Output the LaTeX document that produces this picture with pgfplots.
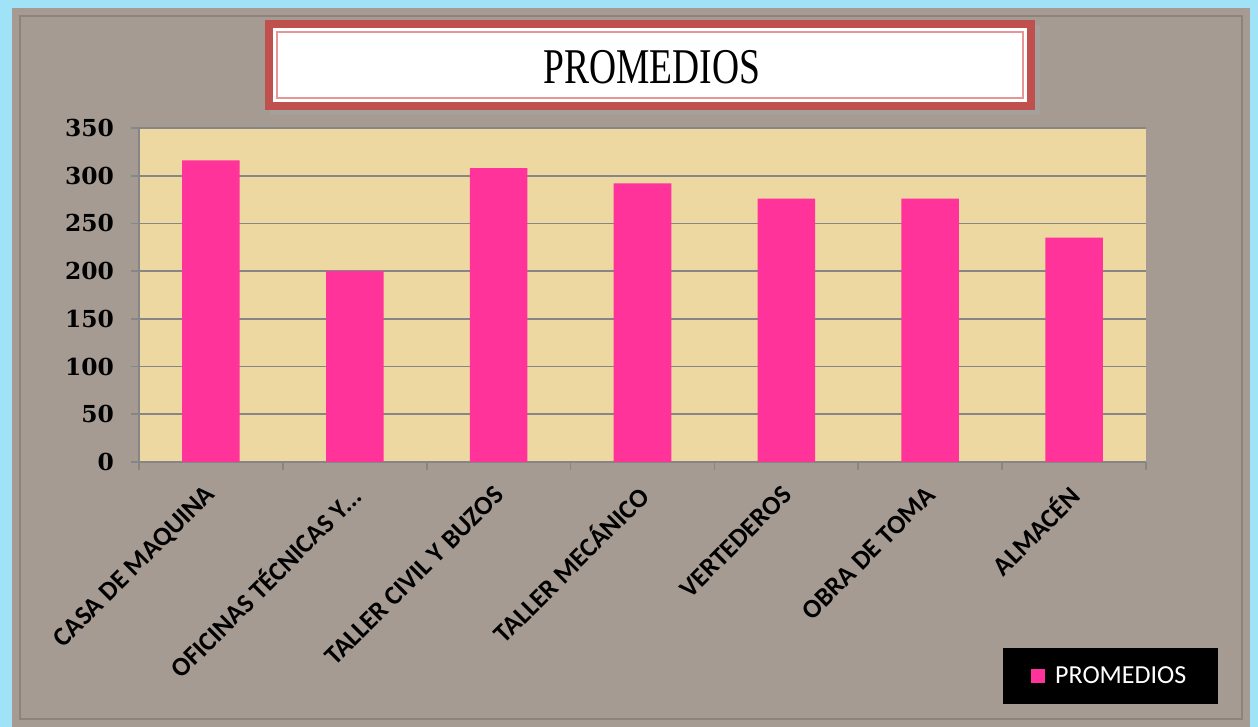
\documentclass[border=0pt]{standalone}
\usepackage{fontspec}
\usepackage{pgfplots}
\pgfplotsset{compat=1.18}
\setmainfont{Carlito}
\newfontfamily\tickfont{DejaVu Serif}
\newfontfamily\titlefont[FakeStretch=0.75]{Liberation Serif}
\definecolor{cyanb}{RGB}{160,226,246}
\definecolor{granite}{RGB}{165,155,147}
\definecolor{granited}{RGB}{140,131,124}
\definecolor{parch}{RGB}{237,216,162}
\definecolor{pinkbar}{RGB}{255,51,153}
\definecolor{gridc}{RGB}{134,134,134}
\definecolor{titlered}{RGB}{192,80,77}
\definecolor{titlepink}{RGB}{230,150,148}
\begin{document}
\begin{tikzpicture}[x=1pt,y=1pt]
\fill[cyanb] (0,0) rectangle (629,363.5);
\fill[granite] (6,0) rectangle (625,359.5);
\draw[granited, line width=0.8pt] (10,4) rectangle (621,355.5);
% title box
\fill[black!35, opacity=0.5] (135,306) rectangle (520,351);
\fill[titlered] (132.5,308.5) rectangle (517.5,353.5);
\fill[white] (136.5,312.5) rectangle (513.5,349.5);
\draw[titlepink, line width=1pt] (138.5,314.5) rectangle (511.5,347.5);
\node[font=\titlefont\fontsize{25}{25}\selectfont] at (326,330) {PROMEDIOS};
\begin{axis}[
  at={(69.5pt,132.5pt)}, anchor=south west,
  scale only axis, width=503.5pt, height=167pt,
  xmin=-0.5, xmax=6.5, ymin=0, ymax=350,
  ytick={0,50,...,350},
  xtick={-0.5,0.5,...,6.5}, xticklabels={},
  extra x ticks={0,1,2,3,4,5,6},
  extra x tick labels={{CASA DE MAQUINA},{OFICINAS TÉCNICAS Y.\kern0pt.\kern0pt.},{TALLER CIVIL Y BUZOS},{TALLER MECÁNICO},{VERTEDEROS},{OBRA DE TOMA},{ALMACÉN}},
  extra x tick style={tick style={draw=none}, grid=none},
  xticklabel style={rotate=45, anchor=east, font=\bfseries\fontsize{13.3}{13}\selectfont, inner sep=1pt, yshift=-7.5pt, xshift=-6pt},
  yticklabel style={font=\tickfont\bfseries\fontsize{11.7}{12}\selectfont, xshift=-5pt},
  /pgf/number format/assume math mode=true,
  axis x line*=bottom, axis y line*=left,
  axis line style={-, draw=gridc, line width=0.8pt},
  tick align=outside, major tick length=4pt,
  tick style={gridc, line width=0.8pt},
  ymajorgrids, grid style={gridc, line width=0.8pt},
  axis background/.style={fill=parch},
  legend style={draw=none, fill=black, text=white, font=\fontsize{13}{13}\selectfont,
    at={(0.965,-0.642)}, anchor=center, inner xsep=14pt, inner ysep=7pt},
  legend image code/.code={\fill[pinkbar] (0pt,-3.5pt) rectangle (7pt,3.5pt); \path (10pt,0pt);},
]
\addplot[ybar, bar width=0.4, fill=pinkbar, draw=none] coordinates {
  (0,316) (1,200) (2,308) (3,292) (4,276) (5,276) (6,235)};
\addlegendentry{PROMEDIOS}
\end{axis}
\pgfresetboundingbox
\path (0,0) rectangle (629,363.5);
\end{tikzpicture}
\end{document}
